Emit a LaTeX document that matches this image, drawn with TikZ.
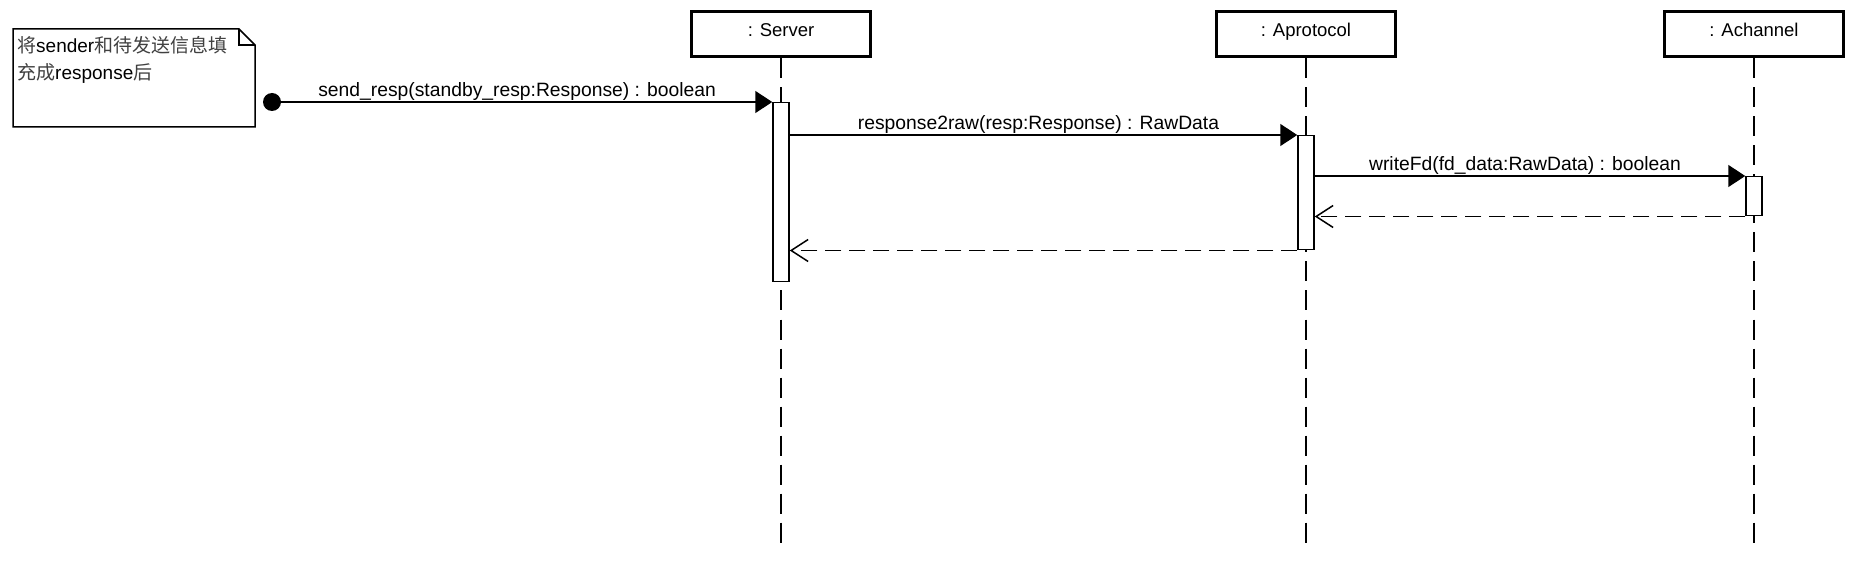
\documentclass[tikz,border=0pt]{standalone}
\usepackage{fontspec}
\setmainfont{Liberation Sans}
\newfontfamily\cjk{Noto Sans CJK SC}
\usetikzlibrary{arrows.meta}
\begin{document}
\begin{tikzpicture}[x=1pt,y=-1pt,
  every node/.style={font=\fontsize{19.3}{23}\selectfont},
  objbox/.style={draw, line width=3pt, fill=white, minimum width=179pt, minimum height=45pt, text height=14pt, text depth=9pt, inner sep=0pt, font=\fontsize{18.5}{23}\selectfont},
  actbar/.style={draw, line width=1.5pt, fill=white, minimum width=16pt, inner sep=0pt, anchor=north},
  lifeline/.style={line width=2pt, dash pattern=on 20pt off 9pt},
  msg/.style={line width=1.5pt, -{Triangle[length=17pt,width=22pt]}},
  ret/.style={line width=1.5pt, dash pattern=on 16pt off 8pt, -{Straight Barb[length=17pt,width=22pt,line width=1.5pt]}},
  msglabel/.style={anchor=base, yshift=5pt, xshift=-5pt, inner sep=0pt},
  notetext/.style={anchor=base west, inner sep=0pt, font=\fontsize{19}{24}\selectfont}]
\fill[white] (0,0) rectangle (1855,561);
\useasboundingbox (0,0) rectangle (1855,561);
% note
\draw[line width=1.5pt, fill=white] (13,29) -- (239,29) -- (255,45) -- (255,127) -- (13,127) -- cycle;
\draw[line width=1.5pt] (239,29) -- (239,45) -- (255,45);
\node[notetext] (n1) at (17,53) {{\cjk\color{black!75}将}sender{\cjk\color{black!75}和待发送信息填}};
\node[notetext] (n2) at (17,80) {{\cjk\color{black!75}充成}response{\cjk\color{black!75}后}};
% objects
\node[objbox] (server) at (781,34.5) {: Server};
\node[objbox] (aproto) at (1306,34.5) {: Aprotocol};
\node[objbox] (achan) at (1754,34.5) {: Achannel};
\coordinate (bottom) at (0,543);
% lifelines
\draw[lifeline] (server.south) -- (server.south |- bottom);
\draw[lifeline] (aproto.south) -- (aproto.south |- bottom);
\draw[lifeline] (achan.south) -- (achan.south |- bottom);
% activation bars
\node[actbar, minimum height=179pt] (sbar) at (781,102) {};
\node[actbar, minimum height=114pt] (abar) at (1306,135) {};
\node[actbar, minimum height=39pt] (cbar) at (1754,176) {};
% start
\node[circle, fill=black, minimum size=18pt, inner sep=0pt] (start) at (272,102) {};
% messages
\draw[msg] (start.center) -- node[msglabel] {send\_resp(standby\_resp:Response) : boolean} (sbar.north west);
\draw[msg] (sbar.east |- abar.north) -- node[msglabel] {response2raw(resp:Response) : RawData} (abar.north west);
\draw[msg] (abar.east |- cbar.north) -- node[msglabel] {writeFd(fd\_data:RawData) : boolean} (cbar.north west);
\draw[ret] (cbar.south west) -- (abar.east |- cbar.south);
\draw[ret] (abar.south west) -- (sbar.east |- abar.south);
\end{tikzpicture}
\end{document}
